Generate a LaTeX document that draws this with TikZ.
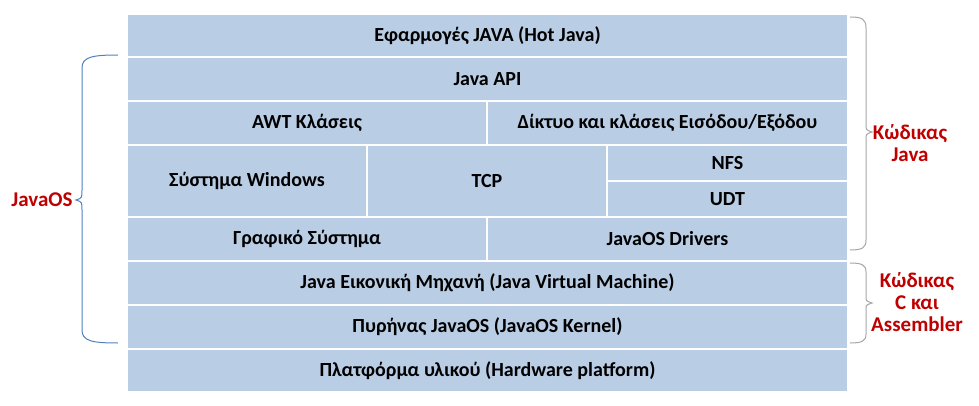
\documentclass[tikz,border=0pt]{standalone}
\usepackage{fontspec}
\setmainfont{Carlito}
\usepackage{tikz}
\definecolor{cellblue}{HTML}{B9CDE5}
\definecolor{labred}{HTML}{C00000}
\definecolor{braceblue}{HTML}{4F81BD}
\tikzset{
  cell/.style={draw=white, line width=1.5pt, fill=cellblue, inner sep=0pt,
    font=\fontsize{20}{22}\selectfont\bfseries},
  side/.style={text=labred, align=center, font=\fontsize{21}{22}\selectfont\bfseries},
}
% cell from (x1,y1) to (x2,y2)
\newcommand{\cellbox}[6]{%
  \node[cell, minimum width={(#4-#2)*1pt}, minimum height={(#5-#3)*1pt}]
    (#1) at ({(#2+#4)/2},{(#3+#5)/2}) {#6};}
\begin{document}
\begin{tikzpicture}[x=1pt, y=-1pt]
	\useasboundingbox (0,0) rectangle (979,406);
	\cellbox{apps}{127}{14}{848}{57}{Εφαρμογές JAVA (Hot Java)}
	\cellbox{api}{127}{57}{848}{101}{Java API}
	\cellbox{awt}{127}{101}{487}{145}{AWT Κλάσεις}
	\cellbox{net}{487}{101}{848}{145}{Δίκτυο και κλάσεις Εισόδου/Εξόδου}
	\cellbox{win}{127}{145}{367}{217}{Σύστημα Windows}
	\cellbox{tcp}{367}{145}{607}{217}{TCP}
	\cellbox{nfs}{607}{145}{848}{181}{NFS}
	\cellbox{udt}{607}{181}{848}{217}{UDT}
	\cellbox{gfx}{127}{217}{487}{261}{Γραφικό Σύστημα}
	\cellbox{drv}{487}{217}{848}{261}{JavaOS Drivers}
	\cellbox{jvm}{127}{261}{848}{305}{Java Εικονική Μηχανή (Java Virtual Machine)}
	\cellbox{kern}{127}{305}{848}{349}{Πυρήνας JavaOS (JavaOS Kernel)}
	\cellbox{hw}{127}{349}{848}{392}{Πλατφόρμα υλικού (Hardware platform)}
	% braces
	\draw[braceblue, line width=1pt] (118,55) .. controls (92,55) and (82,57) .. (82,68)
	  -- (82,190) .. controls (82,198) .. (76,200) .. controls (82,202) .. (82,210)
	  -- (82,330) .. controls (82,341) and (92,343) .. (118,343);
	\draw[gray!70, line width=1pt] (850,17) .. controls (862,17) and (866,19) .. (866,28)
	  -- (866,124) .. controls (866,130) .. (872,132) .. controls (866,134) .. (866,140)
	  -- (866,240) .. controls (866,248) and (862,250) .. (850,250);
	\draw[gray!70, line width=1pt] (850,263) .. controls (862,263) and (866,265) .. (866,272)
	  -- (866,297) .. controls (866,301) .. (872,303) .. controls (866,305) .. (866,309)
	  -- (866,334) .. controls (866,341) and (862,343) .. (850,343);
	\node[side] (javaos) at (42,200) {JavaOS};
	\node[side] (jcode) at (910,143) {Κώδικας\\Java};
	\node[side] (ccode) at (917,302) {Κώδικας\\C και\\Assembler};
\end{tikzpicture}
\end{document}
